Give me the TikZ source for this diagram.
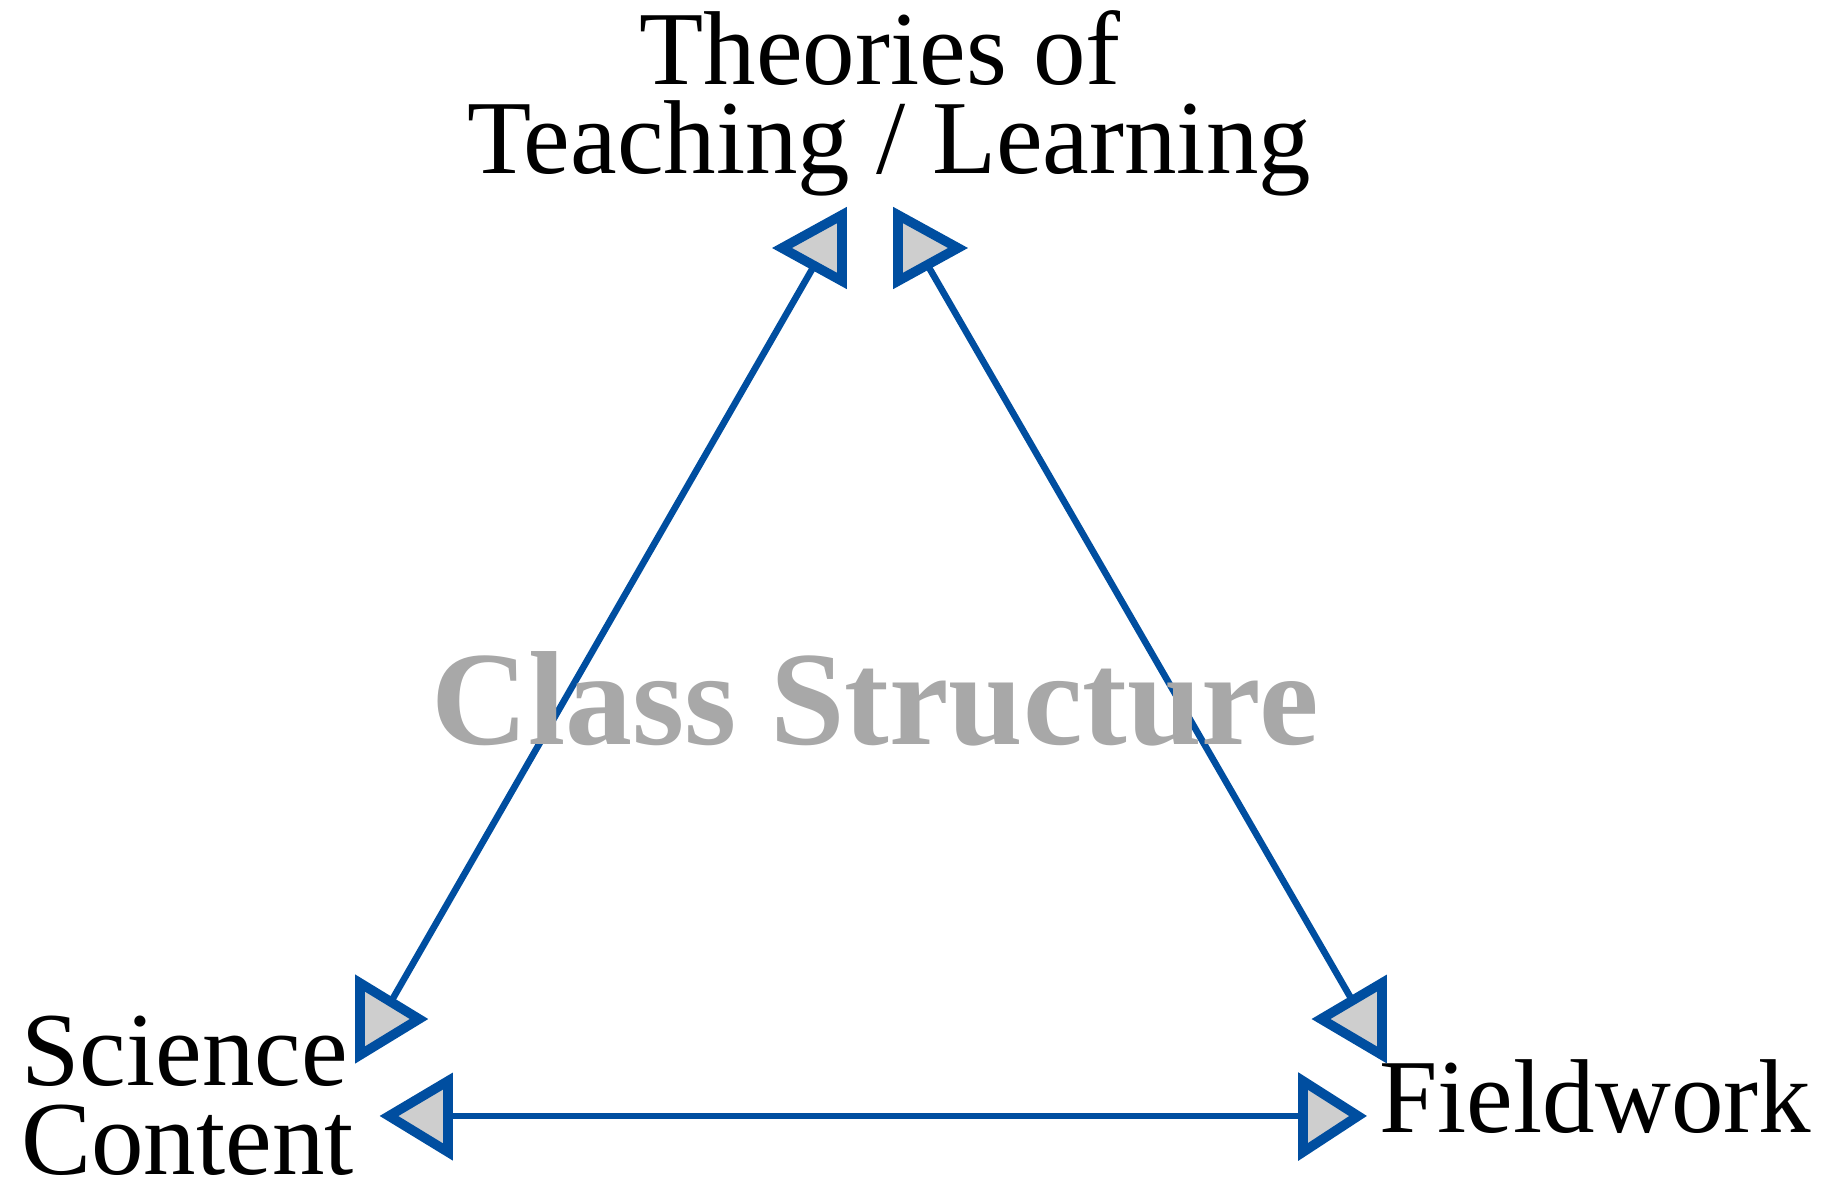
\documentclass[tikz,border=0pt]{standalone}
\usepackage{fontspec}
\setmainfont{Liberation Serif}
\definecolor{arrowblue}{RGB}{0,78,160}
\definecolor{headgray}{RGB}{206,206,206}
\definecolor{wmgray}{RGB}{168,168,168}
\begin{document}
\begin{tikzpicture}[x=0.5pt,y=-0.5pt,
  lbl/.style={inner sep=0pt, anchor=base, font=\fontsize{52.5}{60}\selectfont},
  link/.style={draw=arrowblue, line width=3.3pt},
  head/.style={draw=arrowblue, fill=headgray, line width=4.8pt, line join=miter},
]
\useasboundingbox (0,0) rectangle (1845,1182);
% labels
\node[lbl] (th1) at (880,85) {Theories of};
\node[lbl] (th2) at (889,174) {Teaching / Learning};
\node[lbl, anchor=base west] (sc1) at (21,1085) {Science};
\node[lbl, anchor=base west] (sc2) at (21,1174) {Content};
\node[lbl, anchor=base west] (fw) at (1379,1132) {Fieldwork};
% connector end points
\coordinate (tl) at (822,252);
\coordinate (tr) at (920,252);
\coordinate (sl) at (392,1000);
\coordinate (fr) at (1352,1000);
\coordinate (bl) at (410,1116);
\coordinate (br) at (1340,1116);
\draw[link] (tl) -- (sl);
\draw[link] (tr) -- (fr);
\draw[link] (bl) -- (br);
% arrow heads
\draw[head] (842,215) -- (782,248) -- (842,281) -- cycle;
\draw[head] (898,215) -- (958,248) -- (898,281) -- cycle;
\draw[head] (360,983) -- (419,1019) -- (360,1055) -- cycle;
\draw[head] (1382,983) -- (1321,1019) -- (1382,1055) -- cycle;
\draw[head] (448,1081) -- (389,1116) -- (448,1152) -- cycle;
\draw[head] (1303,1081) -- (1358,1116) -- (1303,1152) -- cycle;
% watermark title
\node[inner sep=0pt, anchor=base, text=wmgray, font=\fontsize{67}{70}\selectfont\bfseries] (cs) at (875,744) {Class Structure};
\end{tikzpicture}
\end{document}
